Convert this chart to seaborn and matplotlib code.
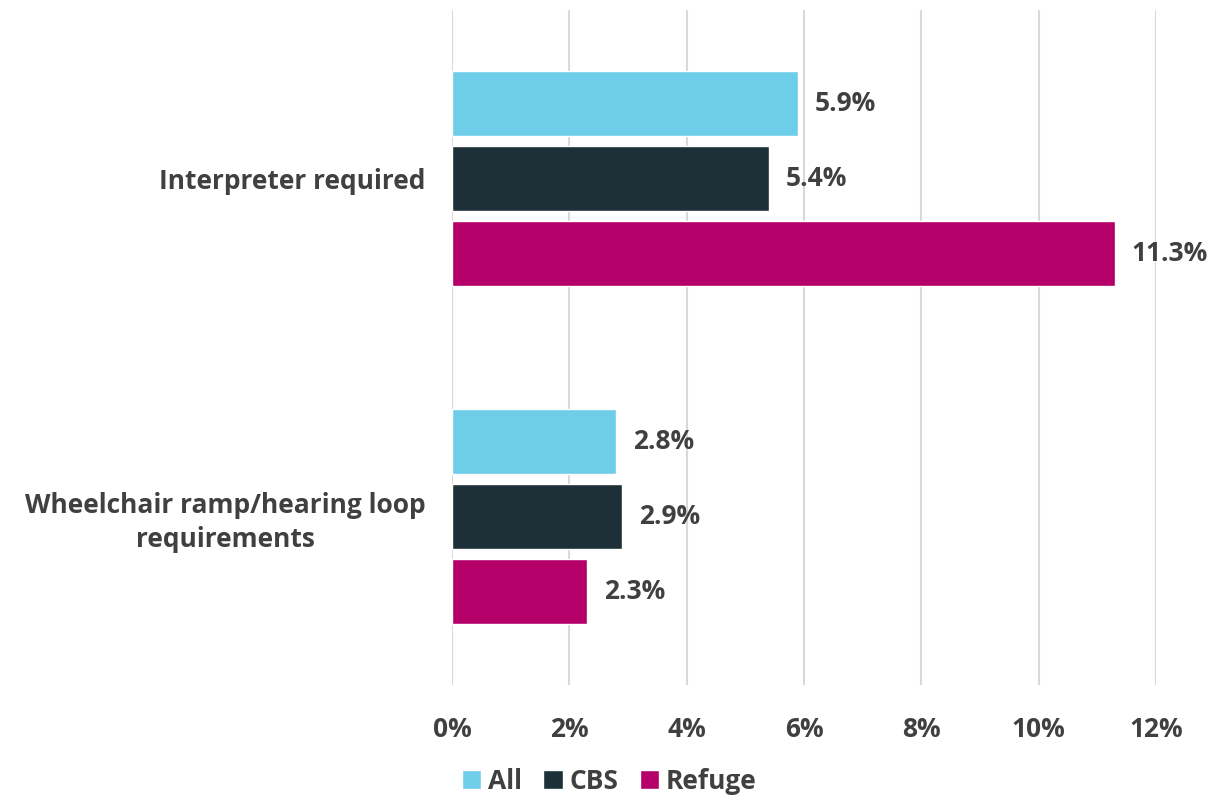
import matplotlib
matplotlib.use("Agg")
import matplotlib.pyplot as plt
import seaborn as sns
import pandas as pd

categories = ["Interpreter required", "Wheelchair ramp/hearing loop\nrequirements"]
series = ["All", "CBS", "Refuge"]
all_vals = [5.9, 2.8]
cbs_vals = [5.4, 2.9]
refuge_vals = [11.3, 2.3]
x_ticks = [0, 2, 4, 6, 8, 10, 12]

colors = ["#6ECDE8", "#1D3038", "#B5006A"]
text_color = "#404040"
fs = 19

rows = []
for name, vals in zip(series, [all_vals, cbs_vals, refuge_vals]):
    for cat, v in zip(categories, vals):
        rows.append({"category": cat, "series": name, "value": v})
df = pd.DataFrame(rows)

sns.set_style("white")
plt.rcParams['font.family'] = ['Open Sans', 'DejaVu Sans']

fig = plt.figure(figsize=(12.11, 7.99), dpi=100, facecolor='white')
ax = fig.add_axes([452 / 1211, 1 - 685 / 799, (1156 - 452) / 1211, 675 / 799])

sns.barplot(data=df, y="category", x="value", hue="series", palette=colors,
            orient="h", width=0.667, gap=0.13, ax=ax, saturation=1)

for c in ax.containers:
    ax.bar_label(c, fmt="%.1f%%", padding=12, fontsize=fs, fontweight='bold', color=text_color)

ax.set_xlim(0, 12)
ax.set_ylim(1.5, -0.5)
ax.set_xticks(x_ticks)
ax.set_xticklabels([f"{t}%" for t in x_ticks], fontsize=fs, fontweight='bold', color=text_color)
ax.tick_params(axis='x', pad=22, length=0)
ax.tick_params(axis='y', pad=19, length=0)
for lbl in ax.get_yticklabels():
    lbl.set_fontsize(fs)
    lbl.set_fontweight('bold')
    lbl.set_color(text_color)
    lbl.set_multialignment('center')
    lbl.set_linespacing(1.3)

ax.xaxis.grid(True, color="#D9D9D9", linewidth=1.5)
ax.set_axisbelow(True)
for s in ax.spines.values():
    s.set_visible(False)
ax.set_xlabel("")
ax.set_ylabel("")

handles, labels = ax.get_legend_handles_labels()
ax.get_legend().remove()
leg = fig.legend(handles, labels, loc="center", bbox_to_anchor=(0.503, 0.022), ncol=3,
                 frameon=False, handlelength=0.75, handleheight=0.75, handletextpad=0.25,
                 columnspacing=0.8, prop={'size': fs, 'weight': 'bold'})
for t in leg.get_texts():
    t.set_color(text_color)

fig.savefig("out.png", dpi=100, facecolor='white')
